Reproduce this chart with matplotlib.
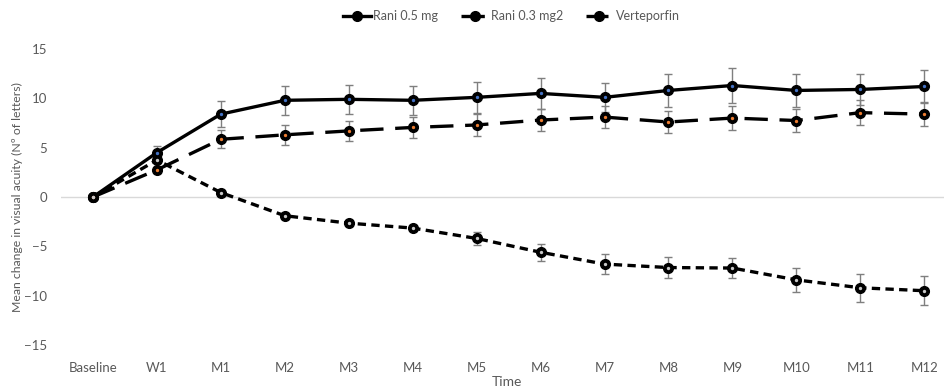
import numpy as np
import matplotlib.pyplot as plt

# Временные точки
labels = ['Baseline', 'W1', 'M1', 'M2', 'M3', 'M4', 'M5', 'M6', 'M7', 'M8', 'M9', 'M10', 'M11', 'M12']

# Средние изменения остроты зрения и ошибки
rani05 = [0, 4.5, 8.4, 9.8, 9.9, 9.8, 10.1, 10.5, 10.1, 10.8, 11.3, 10.8, 10.9, 11.2]
rani05_err = [0, 0.7, 1.3, 1.45, 1.45, 1.5, 1.55, 1.6, 1.5, 1.7, 1.75, 1.7, 1.6, 1.65]

rani03 = [0, 2.75, 5.85, 6.3, 6.7, 7.05, 7.3, 7.8, 8.1, 7.6, 8.0, 7.75, 8.55, 8.4]
rani03_err = [0, 0.3, 0.9, 1.0, 1.0, 1.1, 1.1, 1.15, 1.1, 1.15, 1.2, 1.2, 1.25, 1.2]

verte = [0, 3.75, 0.45, -1.9, -2.65, -3.15, -4.2, -5.6, -6.8, -7.15, -7.2, -8.4, -9.2, -9.5]
verte_err = [0, 0.3, 0.3, 0.3, 0.3, 0.3, 0.65, 0.85, 1.0, 1.05, 1.05, 1.25, 1.4, 1.45]

plt.rcParams['font.family'] = ['Lato', 'DejaVu Sans']
grey = '#595959'
x = np.arange(len(labels))

fig = plt.figure(figsize=(9.44, 3.90), dpi=100)
ax = fig.add_axes([61 / 944, 45 / 390, 892 / 944, 296 / 390])

ax.axhline(0, color='#d9d9d9', linewidth=1, zorder=0)

series = [
    (rani05, rani05_err, 'Rani 0.5 mg', '-', '#4472C4'),
    (rani03, rani03_err, 'Rani 0.3 mg2', (0, (7, 3.5)), '#ED7D31'),
    (verte, verte_err, 'Verteporfin', (0, (2.5, 1.6)), '#c8c8c8'),
]
for vals, err, name, ls, dot in series:
    ax.errorbar(x, vals, yerr=err, fmt='none', ecolor='#7f7f7f', elinewidth=1,
                capsize=3, capthick=1, zorder=2)
    ax.plot(x, vals, color='black', linestyle=ls, linewidth=2.4, marker='o',
            markersize=7, markerfacecolor='black', markeredgecolor='black',
            label=name, zorder=3)
    ax.plot(x, vals, linestyle='none', marker='o', markersize=1.4, color=dot, zorder=4)

ax.set_xlim(-0.5, 13.45)
ax.set_ylim(-15, 15)
ax.set_yticks([-15, -10, -5, 0, 5, 10, 15])
ax.set_xticks(x)
ax.set_xticklabels(labels)
ax.tick_params(axis='both', length=0, colors=grey, labelsize=9.5)
ax.tick_params(axis='x', pad=12)
ax.tick_params(axis='y', pad=10)
for s in ax.spines.values():
    s.set_visible(False)

ax.set_ylabel('Mean change in visual acuity (Nº of letters)', color=grey, fontsize=8.8, labelpad=1)
ax.set_xlabel('Time', color=grey, fontsize=10, labelpad=2)

leg = ax.legend(loc='upper center', bbox_to_anchor=(0.505, 1.17), ncol=3, frameon=False,
                fontsize=9, handlelength=2.2, columnspacing=1.8, handletextpad=0.2)
for t in leg.get_texts():
    t.set_color(grey)

fig.savefig('out.png', dpi=100)
